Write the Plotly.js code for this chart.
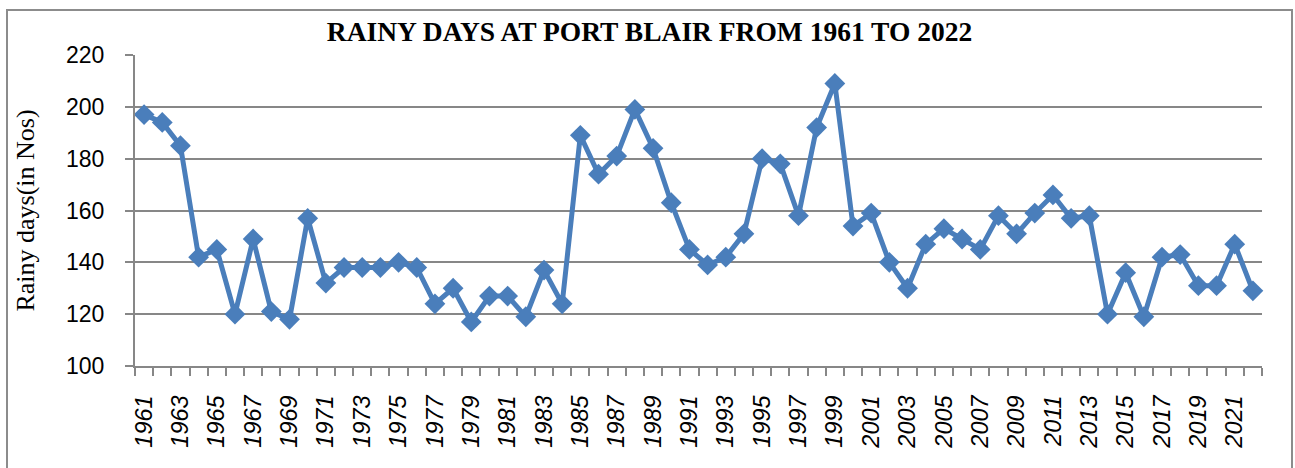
<!DOCTYPE html>
<html>
<head>
<meta charset="utf-8">
<script src="https://cdn.plot.ly/plotly-3.0.1.min.js"></script>
<style>
  html, body { margin: 0; padding: 0; background: #fff; overflow: hidden; }
  #frame { position: absolute; left: 6px; top: 9px; width: 1283px; height: 470px; border: 2px solid #8c8c8c; }
  #chart { width: 1283px; height: 460px; }
</style>
</head>
<body>
<div id="frame"><div id="chart"></div></div>
<script>
const years = [1961,1962,1963,1964,1965,1966,1967,1968,1969,1970,
  1971,1972,1973,1974,1975,1976,1977,1978,1979,1980,
  1981,1982,1983,1984,1985,1986,1987,1988,1989,1990,
  1991,1992,1993,1994,1995,1996,1997,1998,1999,2000,
  2001,2002,2003,2004,2005,2006,2007,2008,2009,2010,
  2011,2012,2013,2014,2015,2016,2017,2018,2019,2020,
  2021,2022];
const rainyDays = [197,194,185,142,145,120,149,121,118,157,
  132,138,138,138,140,138,124,130,117,127,
  127,119,137,124,189,174,181,199,184,163,
  145,139,142,151,180,178,158,192,209,154,
  159,140,130,147,153,149,145,158,151,159,
  166,157,158,120,136,119,142,143,131,131,
  147,129];
const yTicks = [100,120,140,160,180,200,220];
const xTickLabels = years.filter((y, i) => i % 2 === 0);
const boundaries = years.map(y => y - 0.5).concat([years[years.length - 1] + 0.5]);

const trace = {
  x: years,
  y: rainyDays,
  type: 'scatter',
  mode: 'lines+markers',
  line: { color: '#4a7ebb', width: 5 },
  marker: { symbol: 'diamond', size: 16, color: '#4a7ebb' },
  cliponaxis: false,
  hoverinfo: 'x+y'
};

const gray = '#878787';

const layout = {
  width: 1283,
  height: 460,
  margin: { l: 127, r: 29, t: 44, b: 105 },
  paper_bgcolor: '#ffffff',
  plot_bgcolor: '#ffffff',
  showlegend: false,
  title: {
    text: 'RAINY DAYS AT PORT BLAIR FROM 1961 TO 2022',
    font: { family: 'Liberation Serif, Times New Roman, serif', size: 27.5, color: '#000', weight: 'bold' },
    x: 0.5, xanchor: 'center',
    y: 1 - 20 / 460, yanchor: 'middle', yref: 'container'
  },
  xaxis: {
    type: 'linear',
    range: [years[0] - 0.5, years[years.length - 1] + 0.5],
    tickmode: 'array',
    tickvals: xTickLabels,
    ticktext: xTickLabels.map(String),
    ticks: '',
    tickangle: -90,
    tickfont: { family: 'Liberation Sans, Arial, sans-serif', size: 23.5, color: '#000', style: 'italic' },
    ticklabelstandoff: 18,
    minor: { tickmode: 'array', tickvals: boundaries, ticks: 'outside', ticklen: 8, tickwidth: 2, tickcolor: gray, showgrid: false },
    showgrid: false,
    showline: true,
    linecolor: gray,
    linewidth: 2,
    zeroline: false,
    fixedrange: true
  },
  yaxis: {
    range: [100, 220],
    tickmode: 'array',
    tickvals: yTicks,
    ticktext: yTicks.map(String),
    ticks: 'outside',
    ticklen: 8,
    tickwidth: 2,
    tickcolor: gray,
    tickfont: { family: 'Liberation Sans, Arial, sans-serif', size: 23, color: '#000' },
    ticklabelstandoff: 16,
    showgrid: true,
    gridcolor: gray,
    gridwidth: 2,
    showline: true,
    linecolor: gray,
    linewidth: 2,
    zeroline: false,
    title: {
      text: 'Rainy days(in Nos)',
      font: { family: 'Liberation Serif, Times New Roman, serif', size: 26, color: '#000' },
      standoff: 24
    },
    fixedrange: true
  }
};

Plotly.newPlot('chart', [trace], layout, { displayModeBar: false, staticPlot: true });
</script>
</body>
</html>
